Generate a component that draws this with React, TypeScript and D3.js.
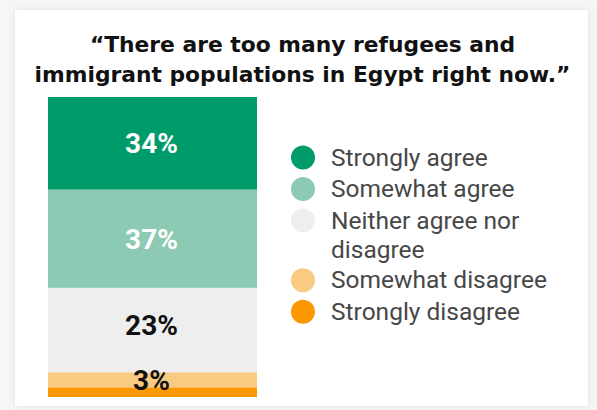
import React from "react";
import * as d3 from "d3";

const categories = [
  "Strongly agree",
  "Somewhat agree",
  "Neither agree nor disagree",
  "Somewhat disagree",
  "Strongly disagree",
];
// segment sizes as drawn in the bar
const values = [34, 36, 31, 5.5, 3.5];
// printed labels
const labels = ["34%", "37%", "23%", "3%", ""];
const colors = ["#009b6b", "#8ccab3", "#eeeeee", "#f8ca82", "#fd9900"];
const labelColors = ["#ffffff", "#ffffff", "#111111", "#111111", "#111111"];
const legendLines = [
  ["Strongly agree"],
  ["Somewhat agree"],
  ["Neither agree nor", "disagree"],
  ["Somewhat disagree"],
  ["Strongly disagree"],
];
const titleLines = [
  "\u201CThere are too many refugees and",
  "immigrant populations in Egypt right now.\u201D",
];

export default function App() {
  const W = 597;
  const H = 410;
  const total = d3.sum(values);
  const y = d3.scaleLinear().domain([0, total]).range([97, 397]);
  const x0 = 48;
  const x1 = 257;
  const stack: { start: number; end: number }[] = [];
  let acc = 0;
  values.forEach((v) => {
    stack.push({ start: acc, end: acc + v });
    acc += v;
  });

  const legendY = d3.scaleLinear().domain([0, 1]).range([157.5, 189]);
  let line = 0;
  const legendItems = legendLines.map((ls, i) => {
    const item = { i, line, ls };
    line += ls.length === 1 ? 1 : 0.95 * ls.length;
    return item;
  });

  return (
    <svg
      width={W}
      height={H}
      style={{ position: "absolute", left: 0, top: 0, fontFamily: "Roboto, sans-serif" }}
    >
      <defs>
        <filter id="sh" x="-5%" y="-5%" width="110%" height="110%">
          <feGaussianBlur in="SourceAlpha" stdDeviation="3" />
          <feComponentTransfer>
            <feFuncA type="linear" slope="0.1" />
          </feComponentTransfer>
          <feMerge>
            <feMergeNode />
            <feMergeNode in="SourceGraphic" />
          </feMerge>
        </filter>
      </defs>
      <rect x={0} y={0} width={W} height={H} fill="#f6f6f6" />
      <rect x={15} y={10} width={573} height={396} fill="#ffffff" filter="url(#sh)" />
      {titleLines.map((t, i) => (
        <text
          key={i}
          x={302.5}
          y={52 + i * 30}
          textAnchor="middle"
          fontSize={21.8}
          fontWeight={700}
          fill="#111"
          style={{ fontFamily: "'DejaVu Sans', sans-serif" }}
        >
          {t}
        </text>
      ))}
      {stack.map((s, i) => (
        <rect
          key={i}
          x={x0}
          y={y(s.start)}
          width={x1 - x0}
          height={y(s.end) - y(s.start)}
          fill={colors[i]}
        />
      ))}
      {stack.map((s, i) =>
        labels[i] ? (
          <text
            key={"l" + i}
            x={(x0 + x1) / 2 - 1}
            y={(y(s.start) + y(s.end)) / 2 + (i === 2 ? 5 : 10)}
            textAnchor="middle"
            fontSize={28}
            fontWeight={700}
            fill={labelColors[i]}
          >
            {labels[i]}
          </text>
        ) : null
      )}
      {legendItems.map((it) => (
        <g key={"g" + it.i}>
          <circle cx={303} cy={legendY(it.line)} r={12} fill={colors[it.i]} />
          {it.ls.map((l, j) => (
            <text
              key={j}
              x={331}
              y={legendY(it.line + j * 0.95) + 8}
              fontSize={24.5}
              fill="#474747"
            >
              {l}
            </text>
          ))}
        </g>
      ))}
    </svg>
  );
}
